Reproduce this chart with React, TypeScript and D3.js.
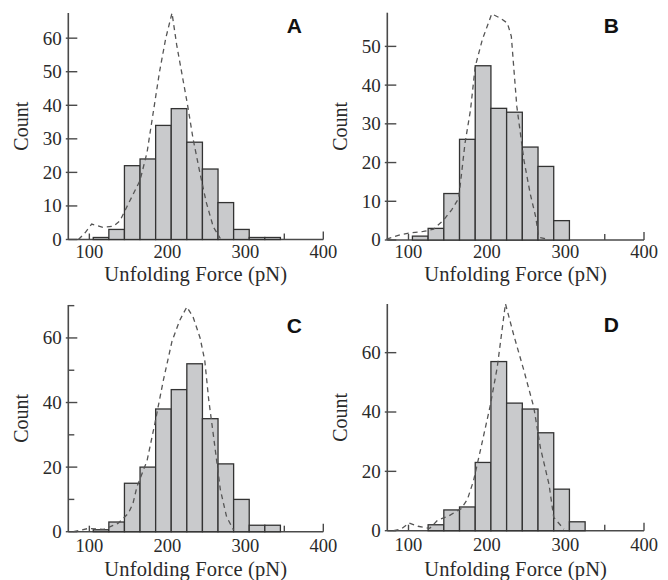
import React, { useEffect, useRef } from "react";
import * as d3 from "d3";

// histogram bins (pN), 20 pN wide
const binStarts = [105, 125, 145, 165, 185, 205, 225, 245, 265, 285, 305, 325];
const binWidth = 20;

const countsA = [0.6, 3, 22, 24, 34, 39, 29, 21, 11, 3, 0.6, 0.6];
const countsB = [1, 3, 12, 26, 45, 34, 33, 24, 19, 5, 0, 0];
const countsC = [0.6, 3, 15, 20, 38, 44, 52, 35, 21, 10, 2, 2];
const countsD = [0, 2, 7, 8, 23, 57, 43, 41, 33, 14, 3, 0];

// dashed fit curves
const fitForceA = [86, 94.5, 103, 118, 131, 139, 148, 165, 174, 182, 190, 198, 206, 212, 219, 226, 233, 242, 250, 259, 268];
const fitCountA = [0, 2, 4.6, 3.6, 4, 5.5, 9.7, 17.6, 26, 38, 50, 60, 67.5, 58, 49, 40, 30, 19.6, 11, 3.7, 0.3];

const fitForceB = [72, 89, 104, 119, 132, 145, 155, 164, 172, 179, 185, 194, 206, 217, 226, 231, 234, 238, 247, 255, 262, 266, 277];
const fitCountB = [0.2, 1.3, 1.9, 2.2, 2.8, 5.2, 7.8, 10.8, 25, 33.6, 44.8, 51.7, 58.4, 57.3, 56, 52.6, 44.8, 34.5, 20.7, 12, 6, 0.7, 0.2];

const fitForceC = [79.5, 98.7, 118, 137, 150, 156, 161, 174, 184, 195, 206, 216, 225, 233, 242, 248, 253, 259, 268, 276, 285];
const fitCountC = [0, 1, 0.7, 2.6, 5.7, 8.8, 13.9, 22, 33.5, 47, 59, 65.5, 69.6, 66.5, 60, 53, 41, 30, 13, 4.6, 0.5];

const fitForceD = [81, 91, 101, 112, 127, 137, 152, 167, 175, 183, 191.5, 204, 213, 223.5, 234, 247, 259.6, 268, 279, 285, 298];
const fitCountD = [0, 0.6, 2.6, 1.5, 0.8, 3.5, 5.1, 7.4, 10.5, 17, 27, 42, 55, 76.5, 66, 54, 41.6, 28, 15.6, 4.5, 0.5];

// axes
const xDomain = [73, 400];
const xTicks = [100, 150, 200, 250, 300, 350, 400];
const xTickLabels = [100, 200, 300, 400];
const yTicksA = [0, 10, 20, 30, 40, 50, 60];
const yLabelsA = [0, 10, 20, 30, 40, 50, 60];
const yTicksB = [0, 10, 20, 30, 40, 50];
const yLabelsB = [0, 10, 20, 30, 40, 50];
const yTicksC = [0, 10, 20, 30, 40, 50, 60, 70];
const yLabelsC = [0, 20, 40, 60];
const yTicksD = [0, 20, 40, 60];
const yLabelsD = [0, 20, 40, 60];

const panels = [
  { letter: "A", counts: countsA, fx: fitForceA, fy: fitCountA, yMax: 67.5, yTicks: yTicksA, yLabels: yLabelsA,
    left: 68.3, right: 323.3, top: 13, bottom: 239.5, letterX: 302, letterY: 33.3, tickY: 258, titleY: 280.5 },
  { letter: "B", counts: countsB, fx: fitForceB, fy: fitCountB, yMax: 58.7, yTicks: yTicksB, yLabels: yLabelsB,
    left: 387.3, right: 644, top: 12.7, bottom: 240, letterX: 619, letterY: 33.3, tickY: 258, titleY: 280.5 },
  { letter: "C", counts: countsC, fx: fitForceC, fy: fitCountC, yMax: 70.2, yTicks: yTicksC, yLabels: yLabelsC,
    left: 68.3, right: 323.3, top: 305, bottom: 531.7, letterX: 302, letterY: 333.3, tickY: 551.5, titleY: 576 },
  { letter: "D", counts: countsD, fx: fitForceD, fy: fitCountD, yMax: 76.4, yTicks: yTicksD, yLabels: yLabelsD,
    left: 387.3, right: 644, top: 304, bottom: 530.7, letterX: 619, letterY: 332, tickY: 551, titleY: 575.5 },
];

const axisColor = "#4a4a4a";
const textColor = "#2a2a2a";
const serif = "'Liberation Serif', 'DejaVu Serif', serif";

function drawPanel(svg, p) {
  const x = d3.scaleLinear().domain(xDomain).range([p.left, p.right]);
  const y = d3.scaleLinear().domain([0, p.yMax]).range([p.bottom, p.top]);
  const g = svg.append("g");

  // axes lines
  g.append("line")
    .attr("x1", p.left).attr("x2", p.left)
    .attr("y1", p.bottom).attr("y2", p.top)
    .attr("stroke", axisColor).attr("stroke-width", 1.6);
  g.append("line")
    .attr("x1", p.left).attr("x2", x(400))
    .attr("y1", p.bottom).attr("y2", p.bottom)
    .attr("stroke", axisColor).attr("stroke-width", 1.6);

  // y ticks
  g.selectAll(".ytick")
    .data(p.yTicks)
    .enter()
    .append("line")
    .attr("x1", d => (p.yLabels.includes(d) ? p.left - 2.5 : p.left))
    .attr("x2", d => (p.yLabels.includes(d) ? p.left + 9 : p.left + 6))
    .attr("y1", d => y(d))
    .attr("y2", d => y(d))
    .attr("stroke", axisColor)
    .attr("stroke-width", 1.4);
  g.selectAll(".ylab")
    .data(p.yLabels)
    .enter()
    .append("text")
    .text(d => d)
    .attr("x", p.left - 6.5)
    .attr("y", d => y(d))
    .attr("dy", "0.34em")
    .attr("text-anchor", "end")
    .attr("font-family", serif)
    .attr("font-size", 19)
    .attr("fill", textColor);

  // x ticks
  g.selectAll(".xtick")
    .data(xTicks)
    .enter()
    .append("line")
    .attr("x1", d => x(d))
    .attr("x2", d => x(d))
    .attr("y1", p.bottom)
    .attr("y2", d => (d === 400 ? p.bottom - 8 : p.bottom - 6))
    .attr("stroke", axisColor)
    .attr("stroke-width", 1.4);
  g.selectAll(".xlab")
    .data(xTickLabels)
    .enter()
    .append("text")
    .text(d => d)
    .attr("x", d => x(d))
    .attr("y", p.tickY)
    .attr("text-anchor", "middle")
    .attr("font-family", serif)
    .attr("font-size", 18.5)
    .attr("fill", textColor);

  // bars
  const bins = binStarts.map((b, i) => ({ start: b, value: p.counts[i] })).filter(d => d.value > 0);
  g.selectAll(".bar")
    .data(bins)
    .enter()
    .append("rect")
    .attr("x", d => x(d.start))
    .attr("width", d => x(d.start + binWidth) - x(d.start))
    .attr("y", d => y(d.value))
    .attr("height", d => p.bottom - y(d.value))
    .attr("fill", "#c9cacc")
    .attr("stroke", "#333")
    .attr("stroke-width", 1.3);

  // fit curve
  const pts = p.fx.map((f, i) => [f, p.fy[i]]);
  const line = d3.line().x(d => x(d[0])).y(d => y(d[1]));
  g.append("path")
    .attr("d", line(pts))
    .attr("fill", "none")
    .attr("stroke", "#555")
    .attr("stroke-width", 1.3)
    .attr("stroke-dasharray", "5,4");

  // labels
  g.append("text")
    .text("Count")
    .attr("transform", `translate(${p.left - 40.3}, ${(p.top + p.bottom) / 2}) rotate(-90)`)
    .attr("text-anchor", "middle")
    .attr("font-family", serif)
    .attr("font-size", 20)
    .attr("fill", textColor);
  g.append("text")
    .text("Unfolding Force (pN)")
    .attr("x", (p.left + p.right) / 2)
    .attr("y", p.titleY)
    .attr("text-anchor", "middle")
    .attr("font-family", serif)
    .attr("font-size", 20.5)
    .attr("letter-spacing", 0.15)
    .attr("fill", textColor);
  g.append("text")
    .text(p.letter)
    .attr("x", p.letterX)
    .attr("y", p.letterY)
    .attr("text-anchor", "end")
    .attr("font-family", "'Liberation Sans', Arial, sans-serif")
    .attr("font-weight", "bold")
    .attr("font-size", 21)
    .attr("fill", "#111");
}

export default function App() {
  const svgRef = useRef(null);

  useEffect(() => {
    const svg = d3.select(svgRef.current);
    svg.selectAll("*").remove();
    panels.forEach(p => drawPanel(svg, p));
  }, []);

  return (
    <svg
      ref={svgRef}
      width={668}
      height={580}
      style={{ position: "absolute", left: 0, top: 0, background: "#fff" }}
    />
  );
}
